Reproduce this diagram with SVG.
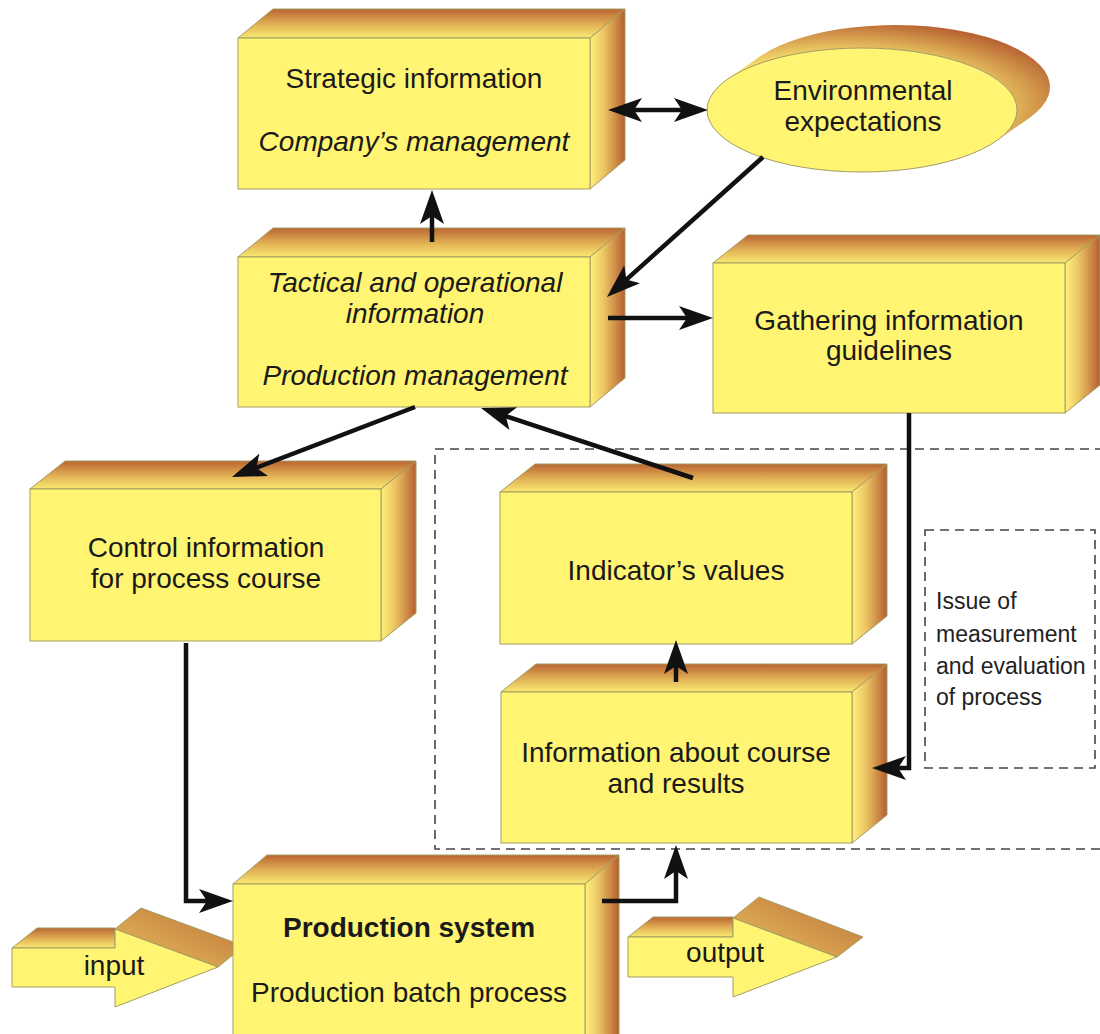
<svg xmlns="http://www.w3.org/2000/svg" width="1100" height="1034" viewBox="0 0 1100 1034">
<style>
.front{fill:#FFF572;stroke:#A39C62;stroke-width:1}
.top{fill:url(#gTop);stroke:#A39C62;stroke-width:1}
.side{fill:url(#gSide);stroke:#A39C62;stroke-width:1}
.t{font-family:"Liberation Sans",Arial,sans-serif;font-size:28px;fill:#1a1a1a;text-anchor:middle}
.i{font-style:italic}
.b{font-weight:bold}
.small{font-family:"Liberation Sans",Arial,sans-serif;font-size:23px;fill:#222}
.con{fill:none;stroke:#111;stroke-width:4.5;stroke-linejoin:miter}
.dash{fill:none;stroke:#444;stroke-width:1.6;stroke-dasharray:9 6}
</style>
<defs>
<linearGradient id="gTop" x1="0" y1="0" x2="0" y2="1">
<stop offset="0" stop-color="#BA6533"/>
<stop offset="0.55" stop-color="#E3B356"/>
<stop offset="1" stop-color="#F8EA72"/>
</linearGradient>
<linearGradient id="gSide" x1="0" y1="0" x2="1" y2="0">
<stop offset="0" stop-color="#FFF27A"/>
<stop offset="0.4" stop-color="#EBC463"/>
<stop offset="1" stop-color="#B65F30"/>
</linearGradient>
<linearGradient id="gArrTop" x1="0" y1="1" x2="1" y2="0">
<stop offset="0" stop-color="#E7C15E"/>
<stop offset="1" stop-color="#BE7038"/>
</linearGradient>
<radialGradient id="gEll" cx="0.35" cy="0.7" r="0.75">
<stop offset="0.55" stop-color="#FBE872"/>
<stop offset="1" stop-color="#B65F30"/>
</radialGradient>
<marker id="ah" markerUnits="userSpaceOnUse" markerWidth="36" markerHeight="26" refX="24" refY="12" orient="auto-start-reverse">
<path d="M0,0 L34,12 L0,24 L8,12 Z" fill="#111"/>
</marker>
</defs>

<g id="measurement-area">
<rect class="dash" x="435" y="449" width="680" height="400"/>
<rect class="dash" x="925" y="530" width="170" height="238"/>
<text class="small" x="936" y="609">Issue of</text>
<text class="small" x="936" y="642">measurement</text>
<text class="small" x="936" y="674">and evaluation</text>
<text class="small" x="936" y="705">of process</text>
</g>

<g id="strategic">
<polygon class="top" points="238,38 273,9 625,9 590,38"/>
<polygon class="side" points="590,38 625,9 625,160 590,189"/>
<rect class="front" x="238" y="38" width="352" height="151"/>
<text class="t" x="414" y="88">Strategic information</text>
<text class="t i" x="414" y="151">Company’s management</text>
</g>

<g id="environmental">
<path d="M727.6,79.1 L760.6,56.1 A155,62 0 0 1 1029.4,117.9 L996.4,140.9 A155,62 0 0 0 727.6,79.1 Z" fill="url(#gEll)"/>
<ellipse cx="862" cy="110" rx="155" ry="62" fill="#FFF572" stroke="#A39C62" stroke-width="1"/>
<text class="t" x="863" y="100">Environmental</text>
<text class="t" x="863" y="131">expectations</text>
</g>

<g id="tactical">
<polygon class="top" points="238,257 273,228 625,228 590,257"/>
<polygon class="side" points="590,257 625,228 625,378 590,407"/>
<rect class="front" x="238" y="257" width="352" height="150"/>
<text class="t i" x="415" y="292">Tactical and operational</text>
<text class="t i" x="415" y="323">information</text>
<text class="t i" x="415" y="385">Production management</text>
</g>

<g id="gathering">
<polygon class="top" points="713,263 748,235 1100,235 1065,263"/>
<polygon class="side" points="1065,263 1100,235 1100,385 1065,413"/>
<rect class="front" x="713" y="263" width="352" height="150"/>
<text class="t" x="889" y="330">Gathering information</text>
<text class="t" x="889" y="360">guidelines</text>
</g>

<g id="control">
<polygon class="top" points="30,489 65,461 416,461 381,489"/>
<polygon class="side" points="381,489 416,461 416,613 381,641"/>
<rect class="front" x="30" y="489" width="351" height="152"/>
<text class="t" x="206" y="557">Control information</text>
<text class="t" x="206" y="588">for process course</text>
</g>

<g id="indicators">
<polygon class="top" points="500,492 535,464 887,464 852,492"/>
<polygon class="side" points="852,492 887,464 887,616 852,644"/>
<rect class="front" x="500" y="492" width="352" height="152"/>
<text class="t" x="676" y="580">Indicator’s values</text>
</g>

<g id="information">
<polygon class="top" points="501,692 536,664 887,664 852,692"/>
<polygon class="side" points="852,692 887,664 887,815 852,843"/>
<rect class="front" x="501" y="692" width="351" height="151"/>
<text class="t" x="676" y="762">Information about course</text>
<text class="t" x="676" y="793">and results</text>
</g>

<g id="input">
<polygon points="12,948 37,928 115,928 115,948" fill="url(#gTop)" stroke="#A39C62" stroke-width="1"/>
<polygon points="115,929 141,908 244,946 218,967" fill="url(#gArrTop)" stroke="#A39C62" stroke-width="1"/>
<polygon class="front" points="12,948 115,948 115,929 218,967 115,1007 115,987 12,987"/>
<text class="t" x="114" y="975">input</text>
</g>

<g id="production">
<polygon class="top" points="233,884 267,855 619,855 585,884"/>
<polygon class="side" points="585,884 619,855 619,1040 585,1040"/>
<rect class="front" x="233" y="884" width="352" height="160"/>
<text class="t b" x="409" y="937">Production system</text>
<text class="t" x="409" y="1002">Production batch process</text>
</g>

<g id="output">
<polygon points="628,937 653,917 733,917 733,937" fill="url(#gTop)" stroke="#A39C62" stroke-width="1"/>
<polygon points="733,918 759,897 863,937 837,957" fill="url(#gArrTop)" stroke="#A39C62" stroke-width="1"/>
<polygon class="front" points="628,937 733,937 733,918 837,957 733,997 733,977 628,977"/>
<text class="t" x="725" y="962">output</text>
</g>

<g id="connectors">
<line class="con" x1="618" y1="110" x2="698" y2="110" marker-start="url(#ah)" marker-end="url(#ah)"/>
<line class="con" x1="432" y1="242" x2="432" y2="200" marker-end="url(#ah)"/>
<line class="con" x1="763" y1="157" x2="614.4" y2="290.3" marker-end="url(#ah)"/>
<line class="con" x1="608" y1="318" x2="703" y2="318" marker-end="url(#ah)"/>
<line class="con" x1="415" y1="407" x2="241.3" y2="473.4" marker-end="url(#ah)"/>
<line class="con" x1="693" y1="478" x2="490.5" y2="411.1" marker-end="url(#ah)"/>
<polyline class="con" points="909,413 909,768 882,768" marker-end="url(#ah)"/>
<line class="con" x1="676" y1="682" x2="676" y2="650" marker-end="url(#ah)"/>
<polyline class="con" points="186,643 186,901 223,901" marker-end="url(#ah)"/>
<polyline class="con" points="602,901 676,901 676,855" marker-end="url(#ah)"/>
</g>
</svg>
